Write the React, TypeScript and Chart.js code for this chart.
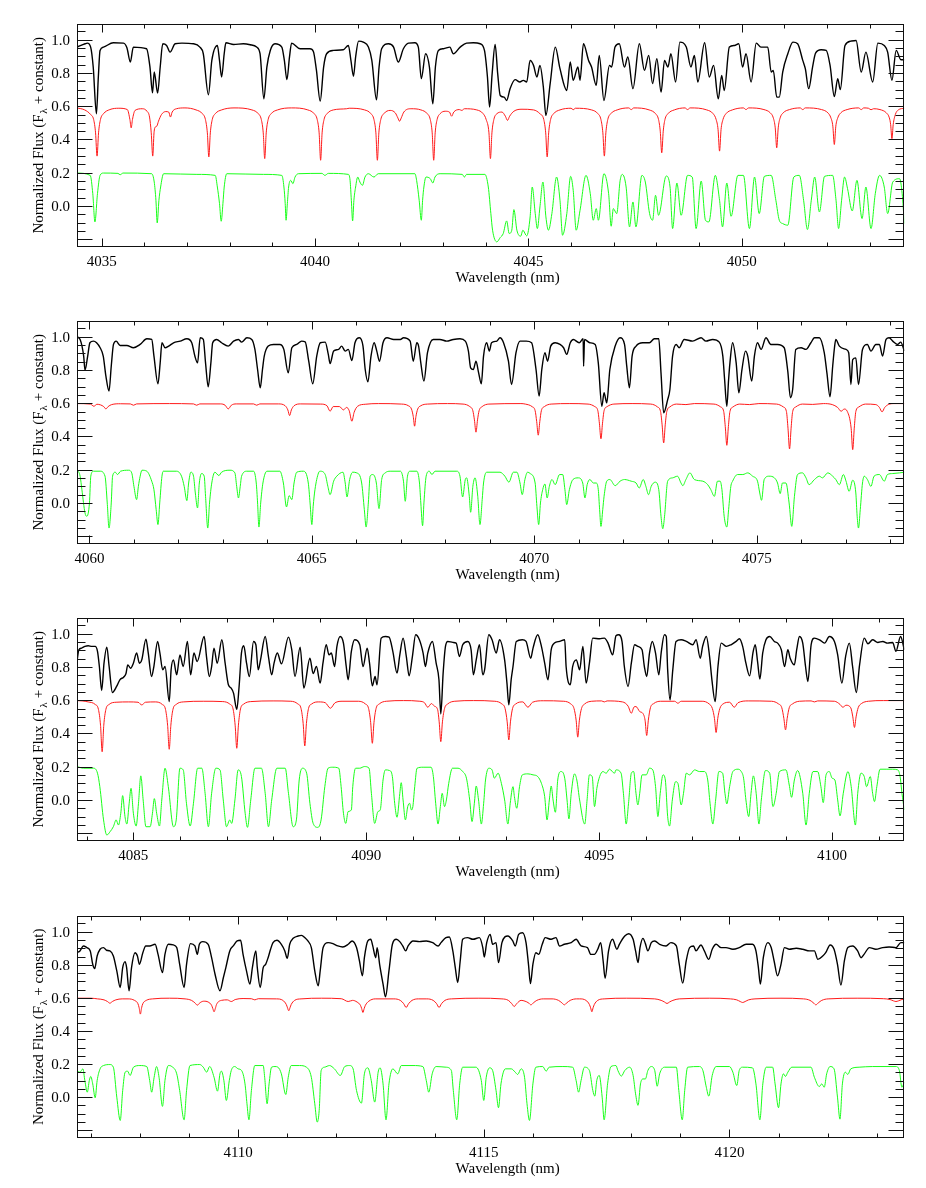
import React, { useEffect, useRef } from "react";
import { Chart, registerables } from "chart.js";

Chart.register(...registerables);

// ---------------- axis ranges and tick labels ----------------
const p1Range = [4034.42, 4053.81];
const p2Range = [4059.72, 4078.32];
const p3Range = [4083.79, 4101.55];
const p4Range = [4106.72, 4123.56];
const fluxRange = [-0.247, 1.098];

const p1Ticks = [4035, 4040, 4045, 4050];
const p2Ticks = [4060, 4065, 4070, 4075];
const p3Ticks = [4085, 4090, 4095, 4100];
const p4Ticks = [4110, 4115, 4120];

const yTickValues = [0.0, 0.2, 0.4, 0.6, 0.8, 1.0];
const yTickLabels = ["0.0", "0.2", "0.4", "0.6", "0.8", "1.0"];

const xTitle = "Wavelength (nm)";
const yTitleA = "Normalized Flux (F";
const yTitleSub = "λ";
const yTitleB = " + constant)";

// ---------------- spectra: [wavelength, flux, wavelength, flux, ...] ----------------
// Panel 1
const p1Observed = [
  4034.42,0.956, 4034.61,0.976, 4034.66,0.98, 4034.74,0.956, 4034.80,0.836, 4034.875,0.555, 4034.92,0.776, 4034.96,0.936,
  4035.04,0.956, 4035.27,0.982, 4035.51,0.98, 4035.59,0.952, 4035.67,0.866, 4035.74,0.956, 4036.05,0.946, 4036.13,0.836,
  4036.19,0.681, 4036.23,0.806, 4036.31,0.679, 4036.37,0.836, 4036.43,0.976, 4036.52,0.966, 4036.60,0.926, 4036.72,0.976,
  4036.88,0.98, 4037.15,0.976, 4037.30,0.956, 4037.38,0.916, 4037.50,0.669, 4037.58,0.876, 4037.71,0.966, 4037.76,0.876,
  4037.81,0.776, 4037.87,0.916, 4037.91,0.982, 4038.09,0.972, 4038.32,0.976, 4038.48,0.97, 4038.63,0.956, 4038.71,0.916,
  4038.80,0.645, 4038.87,0.836, 4038.95,0.936, 4039.06,0.976, 4039.22,0.956, 4039.28,0.876, 4039.34,0.76, 4039.40,0.896,
  4039.45,0.98, 4039.65,0.946, 4039.88,0.946, 4039.96,0.93, 4040.03,0.82, 4040.12,0.631, 4040.20,0.836, 4040.27,0.916,
  4040.43,0.936, 4040.66,0.94, 4040.78,0.966, 4040.84,0.876, 4040.90,0.78, 4040.95,0.896, 4041.02,0.992, 4041.13,0.986,
  4041.25,0.956, 4041.33,0.876, 4041.44,0.639, 4041.50,0.836, 4041.56,0.946, 4041.72,0.976, 4041.84,0.956, 4041.95,0.866,
  4042.07,0.946, 4042.19,0.98, 4042.34,0.982, 4042.42,0.956, 4042.49,0.766, 4042.59,0.916, 4042.68,0.836, 4042.76,0.615,
  4042.82,0.836, 4042.89,0.936, 4043.01,0.946, 4043.16,0.956, 4043.24,0.916, 4043.40,0.956, 4043.55,0.98, 4043.71,0.982,
  4043.87,0.976, 4043.97,0.936, 4044.04,0.776, 4044.09,0.595, 4044.15,0.796, 4044.22,0.972, 4044.28,0.796, 4044.34,0.665,
  4044.43,0.655, 4044.49,0.635, 4044.57,0.706, 4044.69,0.76, 4044.80,0.746, 4044.88,0.756, 4044.96,0.746, 4045.04,0.876,
  4045.12,0.846, 4045.20,0.776, 4045.27,0.846, 4045.35,0.716, 4045.41,0.545, 4045.51,0.736, 4045.63,0.956, 4045.74,0.826,
  4045.90,0.695, 4045.98,0.866, 4046.05,0.756, 4046.16,0.836, 4046.21,0.756, 4046.29,0.976, 4046.41,0.876, 4046.48,0.836,
  4046.59,0.726, 4046.66,0.906, 4046.77,0.635, 4046.90,0.846, 4046.95,0.836, 4047.03,0.956, 4047.13,0.976, 4047.25,0.836,
  4047.33,0.896, 4047.45,0.706, 4047.60,0.976, 4047.72,0.816, 4047.82,0.906, 4047.91,0.736, 4048.01,0.886, 4048.11,0.685,
  4048.19,0.876, 4048.27,0.836, 4048.34,0.916, 4048.45,0.746, 4048.55,0.986, 4048.70,0.956, 4048.81,0.836, 4048.89,0.906,
  4048.97,0.746, 4049.13,0.982, 4049.24,0.776, 4049.34,0.846, 4049.45,0.645, 4049.53,0.786, 4049.59,0.695, 4049.71,0.956,
  4049.83,0.966, 4049.93,0.976, 4050.02,0.836, 4050.10,0.916, 4050.22,0.746, 4050.34,0.98, 4050.45,0.956, 4050.61,0.956,
  4050.69,0.806, 4050.74,0.816, 4050.82,0.655, 4050.88,0.655, 4050.96,0.806, 4051.08,0.916, 4051.20,0.986, 4051.31,0.976,
  4051.43,0.876, 4051.49,0.826, 4051.57,0.706, 4051.66,0.836, 4051.73,0.92, 4051.86,0.94, 4051.98,0.936, 4052.07,0.846,
  4052.17,0.659, 4052.25,0.766, 4052.31,0.70, 4052.42,0.966, 4052.56,0.992, 4052.68,0.996, 4052.80,0.806, 4052.91,0.926,
  4053.07,0.746, 4053.19,0.98, 4053.34,0.966, 4053.42,0.926, 4053.52,0.756, 4053.62,0.936, 4053.73,0.88, 4053.81,0.88,
];
const p1ModelRed = [
  4034.42,0.59, 4034.60,0.578, 4034.74,0.55, 4034.81,0.52, 4034.855,0.44, 4034.89,0.30, 4034.925,0.44, 4034.97,0.52,
  4035.04,0.555, 4035.19,0.58, 4035.40,0.588, 4035.60,0.58, 4035.66,0.52, 4035.69,0.47, 4035.72,0.52, 4035.78,0.575,
  4035.95,0.585, 4036.06,0.57, 4036.12,0.535, 4036.16,0.44, 4036.195,0.30, 4036.225,0.44, 4036.255,0.475, 4036.29,0.48,
  4036.33,0.51, 4036.40,0.55, 4036.50,0.568, 4036.57,0.565, 4036.61,0.535, 4036.65,0.565, 4036.75,0.585, 4036.95,0.59,
  4037.21,0.578, 4037.36,0.555, 4037.43,0.52, 4037.475,0.44, 4037.51,0.295, 4037.545,0.44, 4037.59,0.52, 4037.66,0.555,
  4037.81,0.578, 4038.10,0.59, 4038.52,0.578, 4038.67,0.555, 4038.74,0.52, 4038.785,0.44, 4038.82,0.285, 4038.855,0.44,
  4038.90,0.52, 4038.97,0.555, 4039.12,0.578, 4039.45,0.59, 4039.83,0.578, 4039.98,0.555, 4040.05,0.52, 4040.095,0.44,
  4040.13,0.275, 4040.165,0.44, 4040.21,0.52, 4040.28,0.555, 4040.43,0.578, 4040.74,0.585, 4040.80,0.588, 4041.16,0.578,
  4041.31,0.555, 4041.38,0.52, 4041.425,0.44, 4041.46,0.275, 4041.495,0.44, 4041.54,0.52, 4041.61,0.555, 4041.76,0.575,
  4041.88,0.56, 4041.94,0.53, 4041.98,0.51, 4042.02,0.53, 4042.08,0.565, 4042.25,0.585, 4042.48,0.578, 4042.63,0.555,
  4042.70,0.52, 4042.745,0.44, 4042.78,0.275, 4042.815,0.44, 4042.86,0.52, 4042.93,0.555, 4043.05,0.57, 4043.15,0.565,
  4043.20,0.54, 4043.25,0.565, 4043.38,0.58, 4043.44,0.575, 4043.50,0.585, 4043.79,0.578, 4043.94,0.555, 4044.01,0.52,
  4044.075,0.44, 4044.11,0.285, 4044.145,0.44, 4044.19,0.52, 4044.26,0.555, 4044.38,0.565, 4044.46,0.54, 4044.51,0.515,
  4044.56,0.54, 4044.66,0.57, 4044.85,0.582, 4045.12,0.578, 4045.27,0.555, 4045.36,0.52, 4045.405,0.44, 4045.44,0.295,
  4045.475,0.44, 4045.52,0.52, 4045.59,0.555, 4045.74,0.578, 4046.00,0.588, 4046.05,0.579, 4046.10,0.588, 4046.48,0.578,
  4046.63,0.555, 4046.70,0.52, 4046.745,0.44, 4046.78,0.30, 4046.815,0.44, 4046.86,0.52, 4046.93,0.555, 4047.08,0.578,
  4047.35,0.59, 4047.41,0.58, 4047.47,0.59, 4047.83,0.578, 4047.98,0.555, 4048.05,0.52, 4048.09,0.45, 4048.125,0.32,
  4048.16,0.45, 4048.20,0.52, 4048.27,0.555, 4048.42,0.578, 4048.67,0.59, 4048.73,0.58, 4048.79,0.59, 4049.18,0.578,
  4049.33,0.555, 4049.40,0.52, 4049.445,0.46, 4049.48,0.33, 4049.515,0.46, 4049.56,0.52, 4049.63,0.555, 4049.78,0.578,
  4050.04,0.59, 4050.10,0.58, 4050.16,0.59, 4050.52,0.58, 4050.67,0.56, 4050.74,0.53, 4050.785,0.47, 4050.82,0.35,
  4050.855,0.47, 4050.90,0.53, 4050.97,0.56, 4051.12,0.58, 4051.37,0.59, 4051.43,0.58, 4051.49,0.59, 4051.87,0.58,
  4052.02,0.56, 4052.09,0.53, 4052.135,0.48, 4052.17,0.37, 4052.205,0.48, 4052.25,0.53, 4052.32,0.56, 4052.47,0.58,
  4052.74,0.59, 4052.80,0.58, 4052.86,0.59, 4052.97,0.588, 4053.03,0.579, 4053.09,0.585, 4053.24,0.58, 4053.39,0.56,
  4053.46,0.53, 4053.49,0.49, 4053.52,0.405, 4053.55,0.49, 4053.60,0.55, 4053.67,0.578, 4053.81,0.588,
];
const p1ModelGreen = [
  4034.42,0.198, 4034.73,0.184, 4034.79,0.074, 4034.84,-0.096, 4034.90,0.074, 4034.96,0.184, 4035.04,0.198, 4035.38,0.196,
  4035.43,0.188, 4035.50,0.198, 4036.17,0.194, 4036.23,0.144, 4036.27,0.034, 4036.30,-0.102, 4036.34,0.034, 4036.38,0.114,
  4036.45,0.194, 4037.23,0.19, 4037.66,0.184, 4037.71,0.114, 4037.76,0.014, 4037.80,-0.092, 4037.84,0.014, 4037.87,0.114,
  4037.93,0.194, 4038.79,0.19, 4039.22,0.184, 4039.27,0.114, 4039.30,0.014, 4039.32,-0.086, 4039.35,0.014, 4039.38,0.114,
  4039.43,0.154, 4039.48,0.134, 4039.53,0.174, 4039.61,0.194, 4040.16,0.196, 4040.23,0.184, 4040.31,0.196, 4040.78,0.19,
  4040.82,0.154, 4040.85,0.034, 4040.88,-0.09, 4040.91,0.034, 4040.95,0.114, 4041.00,0.174, 4041.05,0.144, 4041.11,0.124,
  4041.17,0.174, 4041.25,0.194, 4041.38,0.174, 4041.48,0.194, 4042.34,0.194, 4042.38,0.154, 4042.44,0.034, 4042.49,-0.086,
  4042.52,0.034, 4042.55,0.114, 4042.60,0.174, 4042.70,0.164, 4042.76,0.138, 4042.81,0.174, 4042.93,0.194, 4043.45,0.19,
  4043.50,0.174, 4043.55,0.19, 4043.98,0.19, 4044.06,0.114, 4044.12,-0.046, 4044.16,-0.146, 4044.26,-0.216, 4044.34,-0.19,
  4044.41,-0.166, 4044.49,-0.09, 4044.55,-0.166, 4044.61,-0.146, 4044.66,-0.022, 4044.73,-0.146, 4044.82,-0.182, 4044.87,-0.146,
  4044.96,-0.18, 4045.04,-0.066, 4045.09,0.114, 4045.16,-0.046, 4045.21,-0.136, 4045.27,-0.006, 4045.34,0.144, 4045.41,-0.066,
  4045.47,-0.146, 4045.55,-0.046, 4045.66,0.174, 4045.74,0.034, 4045.80,-0.176, 4045.90,-0.046, 4045.99,0.178, 4046.05,0.094,
  4046.12,-0.146, 4046.21,-0.026, 4046.35,0.184, 4046.45,0.074, 4046.52,-0.086, 4046.59,-0.016, 4046.64,-0.086, 4046.77,0.194,
  4046.88,0.074, 4046.94,-0.122, 4046.99,-0.016, 4047.07,-0.046, 4047.15,0.154, 4047.20,0.19, 4047.29,0.114, 4047.37,-0.126,
  4047.45,0.024, 4047.52,-0.126, 4047.66,0.184, 4047.74,0.144, 4047.84,-0.046, 4047.91,-0.086, 4047.98,0.064, 4048.05,-0.056,
  4048.23,0.18, 4048.32,0.114, 4048.38,-0.136, 4048.48,0.138, 4048.58,-0.056, 4048.73,0.184, 4048.84,0.174, 4048.93,-0.136,
  4049.05,0.15, 4049.15,-0.086, 4049.23,-0.096, 4049.38,0.184, 4049.48,0.034, 4049.55,-0.126, 4049.65,0.138, 4049.75,-0.062,
  4049.91,0.184, 4050.04,0.184, 4050.18,-0.136, 4050.30,0.174, 4050.41,-0.046, 4050.53,0.178, 4050.69,0.184, 4050.80,0.034,
  4050.88,-0.086, 4050.96,-0.106, 4051.08,-0.116, 4051.22,0.174, 4051.35,0.184, 4051.45,0.034, 4051.54,-0.142, 4051.63,0.034,
  4051.71,0.174, 4051.82,-0.036, 4051.94,0.178, 4052.13,0.184, 4052.21,0.034, 4052.27,-0.136, 4052.34,0.034, 4052.41,0.174,
  4052.48,0.104, 4052.59,-0.03, 4052.70,0.154, 4052.82,-0.076, 4052.91,0.114, 4053.03,-0.136, 4053.13,0.074, 4053.23,0.184,
  4053.34,0.114, 4053.42,-0.046, 4053.54,0.144, 4053.70,0.164, 4053.76,0.074, 4053.81,-0.106,
];

// Panel 2
const p2Observed = [
  4059.72,1.0, 4059.79,0.984, 4059.87,0.884, 4059.90,0.799, 4059.96,0.884, 4060.01,0.964, 4060.09,0.974, 4060.16,0.964,
  4060.24,0.934, 4060.31,0.884, 4060.37,0.763, 4060.44,0.673, 4060.49,0.823, 4060.54,0.954, 4060.60,0.974, 4060.69,0.948,
  4060.84,0.948, 4060.99,0.934, 4061.14,0.954, 4061.29,0.988, 4061.40,0.984, 4061.45,0.884, 4061.54,0.717, 4061.59,0.843,
  4061.63,0.964, 4061.70,0.934, 4061.78,0.944, 4061.89,0.964, 4062.04,0.974, 4062.19,0.988, 4062.30,0.964, 4062.37,0.884,
  4062.43,0.843, 4062.49,0.994, 4062.56,0.984, 4062.61,0.843, 4062.67,0.699, 4062.73,0.843, 4062.77,0.964, 4062.86,0.984,
  4062.97,0.964, 4063.12,0.944, 4063.24,0.974, 4063.35,0.984, 4063.42,0.968, 4063.54,0.994, 4063.65,0.984, 4063.72,0.924,
  4063.78,0.803, 4063.84,0.693, 4063.89,0.803, 4063.93,0.884, 4064.02,0.944, 4064.14,0.954, 4064.28,0.954, 4064.37,0.924,
  4064.47,0.783, 4064.55,0.934, 4064.66,0.954, 4064.77,0.974, 4064.85,0.97, 4064.93,0.853, 4065.02,0.717, 4065.11,0.884,
  4065.19,0.964, 4065.30,0.968, 4065.37,0.894, 4065.41,0.839, 4065.49,0.914, 4065.60,0.924, 4065.67,0.944, 4065.75,0.914,
  4065.82,0.924, 4065.90,0.857, 4065.97,0.964, 4066.07,0.994, 4066.15,0.944, 4066.20,0.803, 4066.26,0.729, 4066.33,0.884,
  4066.40,0.964, 4066.46,0.914, 4066.52,0.853, 4066.60,0.964, 4066.69,0.994, 4066.84,0.984, 4066.99,0.984, 4067.06,0.994,
  4067.21,0.974, 4067.28,0.853, 4067.36,0.964, 4067.40,0.944, 4067.45,0.843, 4067.52,0.733, 4067.60,0.904, 4067.73,0.984,
  4067.88,0.984, 4068.03,0.974, 4068.18,0.984, 4068.33,0.988, 4068.45,0.974, 4068.52,0.914, 4068.57,0.813, 4068.63,0.803,
  4068.69,0.853, 4068.75,0.783, 4068.81,0.717, 4068.86,0.884, 4068.93,0.964, 4068.99,0.914, 4069.04,0.964, 4069.16,0.974,
  4069.23,0.994, 4069.31,0.964, 4069.42,0.853, 4069.49,0.713, 4069.59,0.904, 4069.68,0.974, 4069.82,0.974, 4069.94,0.964,
  4070.04,0.803, 4070.11,0.643, 4070.17,0.803, 4070.24,0.904, 4070.30,0.853, 4070.37,0.944, 4070.47,0.964, 4070.58,0.954,
  4070.66,0.934, 4070.73,0.894, 4070.81,0.964, 4070.88,0.984, 4071.01,0.964, 4071.10,0.988, 4071.11,0.823, 4071.13,0.984,
  4071.25,0.964, 4071.37,0.954, 4071.44,0.843, 4071.52,0.582, 4071.57,0.663, 4071.63,0.602, 4071.70,0.803, 4071.82,0.944,
  4071.93,0.994, 4072.03,0.954, 4072.08,0.823, 4072.14,0.693, 4072.20,0.884, 4072.29,0.944, 4072.44,0.964, 4072.59,0.964,
  4072.70,0.988, 4072.80,0.988, 4072.85,0.783, 4072.91,0.542, 4073.00,0.622, 4073.05,0.683, 4073.11,0.884, 4073.19,0.954,
  4073.26,0.934, 4073.37,0.984, 4073.56,0.974, 4073.75,0.994, 4073.86,0.974, 4074.01,0.984, 4074.16,0.968, 4074.24,0.884,
  4074.28,0.743, 4074.33,0.582, 4074.37,0.743, 4074.40,0.843, 4074.46,0.964, 4074.54,0.843, 4074.60,0.663, 4074.67,0.803,
  4074.75,0.914, 4074.80,0.884, 4074.89,0.733, 4074.95,0.884, 4075.02,0.964, 4075.10,0.924, 4075.21,0.994, 4075.32,0.954,
  4075.47,0.954, 4075.62,0.934, 4075.70,0.793, 4075.76,0.633, 4075.81,0.683, 4075.88,0.924, 4076.00,0.934, 4076.11,0.924,
  4076.22,0.964, 4076.30,0.994, 4076.41,0.994, 4076.52,0.904, 4076.58,0.783, 4076.65,0.639, 4076.71,0.823, 4076.75,0.934,
  4076.78,0.984, 4076.86,0.944, 4077.01,0.924, 4077.07,0.904, 4077.12,0.713, 4077.16,0.863, 4077.23,0.873, 4077.29,0.713,
  4077.38,0.924, 4077.49,0.954, 4077.57,0.914, 4077.68,0.954, 4077.76,0.954, 4077.83,0.884, 4077.91,0.984, 4077.98,0.994,
  4078.06,0.974, 4078.17,0.954, 4078.24,0.968, 4078.32,0.914,
];
const p2ModelRed = [
  4059.72,0.598, 4060.02,0.595, 4060.10,0.582, 4060.17,0.594, 4060.25,0.59, 4060.32,0.58, 4060.37,0.566, 4060.42,0.58,
  4060.50,0.592, 4060.70,0.597, 4060.92,0.596, 4060.99,0.588, 4061.06,0.596, 4061.80,0.598, 4062.34,0.596, 4062.41,0.588,
  4062.48,0.596, 4062.95,0.596, 4063.05,0.588, 4063.12,0.566, 4063.19,0.588, 4063.30,0.596, 4063.69,0.596, 4063.76,0.588,
  4063.83,0.596, 4064.25,0.596, 4064.40,0.585, 4064.46,0.56, 4064.50,0.526, 4064.54,0.56, 4064.60,0.585, 4064.75,0.596,
  4065.20,0.595, 4065.34,0.585, 4065.41,0.552, 4065.48,0.58, 4065.62,0.58, 4065.71,0.56, 4065.78,0.575, 4065.84,0.555,
  4065.90,0.492, 4065.95,0.545, 4066.03,0.582, 4066.20,0.594, 4066.50,0.598, 4067.02,0.595, 4067.17,0.585, 4067.24,0.565,
  4067.28,0.52, 4067.31,0.462, 4067.34,0.52, 4067.38,0.565, 4067.45,0.585, 4067.60,0.595, 4068.05,0.598, 4068.40,0.595,
  4068.55,0.58, 4068.62,0.555, 4068.655,0.50, 4068.69,0.426, 4068.725,0.50, 4068.76,0.555, 4068.83,0.58, 4068.98,0.595,
  4069.70,0.598, 4069.80,0.595, 4069.95,0.58, 4070.02,0.555, 4070.055,0.49, 4070.09,0.408, 4070.125,0.49, 4070.16,0.555,
  4070.23,0.58, 4070.38,0.595, 4070.80,0.598, 4071.21,0.595, 4071.36,0.58, 4071.43,0.555, 4071.465,0.48, 4071.50,0.386,
  4071.535,0.48, 4071.57,0.555, 4071.64,0.58, 4071.79,0.595, 4072.20,0.598, 4072.62,0.595, 4072.77,0.578, 4072.84,0.55,
  4072.875,0.47, 4072.91,0.361, 4072.945,0.47, 4072.98,0.55, 4073.05,0.578, 4073.20,0.595, 4073.41,0.592, 4073.60,0.598,
  4074.04,0.595, 4074.19,0.578, 4074.26,0.55, 4074.295,0.46, 4074.33,0.347, 4074.365,0.46, 4074.40,0.55, 4074.47,0.578,
  4074.62,0.595, 4074.84,0.592, 4075.05,0.598, 4075.45,0.595, 4075.60,0.578, 4075.67,0.55, 4075.705,0.45, 4075.74,0.325,
  4075.775,0.45, 4075.81,0.55, 4075.88,0.578, 4076.03,0.595, 4076.26,0.593, 4076.50,0.598, 4076.70,0.592, 4076.82,0.575,
  4076.90,0.552, 4076.97,0.565, 4077.04,0.55, 4077.125,0.45, 4077.16,0.321, 4077.195,0.45, 4077.23,0.55, 4077.30,0.578,
  4077.45,0.595, 4077.68,0.592, 4077.76,0.575, 4077.82,0.548, 4077.88,0.575, 4077.96,0.592, 4078.10,0.598, 4078.32,0.598,
];
const p2ModelGreen = [
  4059.72,0.201, 4059.79,0.161, 4059.83,0.08, 4059.90,-0.06, 4059.94,-0.08, 4060.00,0.0, 4060.03,0.161, 4060.09,0.191,
  4060.24,0.191, 4060.35,0.161, 4060.40,0.0, 4060.44,-0.151, 4060.49,0.0, 4060.52,0.161, 4060.58,0.185, 4060.63,0.171,
  4060.70,0.191, 4060.88,0.197, 4060.95,0.181, 4061.00,0.10, 4061.06,0.02, 4061.10,0.10, 4061.14,0.161, 4061.18,0.197,
  4061.29,0.191, 4061.40,0.131, 4061.45,0.08, 4061.50,-0.04, 4061.54,-0.13, 4061.58,0.0, 4061.63,0.161, 4061.66,0.191,
  4061.96,0.191, 4062.07,0.161, 4062.13,0.10, 4062.19,0.014, 4062.23,0.12, 4062.28,0.185, 4062.34,0.161, 4062.38,0.06,
  4062.43,-0.03, 4062.47,0.12, 4062.52,0.177, 4062.58,0.161, 4062.61,0.04, 4062.66,-0.151, 4062.70,0.0, 4062.75,0.12,
  4062.82,0.185, 4062.91,0.165, 4062.97,0.185, 4063.16,0.197, 4063.27,0.181, 4063.31,0.10, 4063.35,0.03, 4063.39,0.10,
  4063.42,0.161, 4063.54,0.191, 4063.69,0.191, 4063.75,0.12, 4063.78,0.0, 4063.81,-0.145, 4063.85,0.0, 4063.90,0.12,
  4063.99,0.191, 4064.28,0.191, 4064.36,0.12, 4064.43,-0.024, 4064.49,0.044, 4064.55,0.02, 4064.60,0.12, 4064.66,0.185,
  4064.81,0.191, 4064.92,0.12, 4064.96,0.0, 4065.00,-0.13, 4065.03,-0.02, 4065.07,0.08, 4065.15,0.181, 4065.19,0.191,
  4065.30,0.171, 4065.36,0.10, 4065.41,0.05, 4065.49,0.131, 4065.56,0.161, 4065.70,0.185, 4065.75,0.12, 4065.79,0.036,
  4065.85,0.141, 4065.92,0.185, 4066.01,0.181, 4066.12,0.12, 4066.18,-0.04, 4066.22,-0.145, 4066.27,0.0, 4066.31,0.161,
  4066.37,0.171, 4066.45,0.12, 4066.51,-0.034, 4066.57,0.141, 4066.65,0.181, 4066.76,0.191, 4066.99,0.191, 4067.06,0.131,
  4067.10,0.01, 4067.15,0.161, 4067.21,0.191, 4067.36,0.191, 4067.42,0.12, 4067.45,0.0, 4067.49,-0.137, 4067.52,0.0,
  4067.57,0.161, 4067.64,0.191, 4067.70,0.171, 4067.77,0.191, 4068.26,0.191, 4068.33,0.161, 4068.39,0.036, 4068.45,0.141,
  4068.48,0.151, 4068.54,0.04, 4068.57,-0.056, 4068.62,0.10, 4068.67,0.151, 4068.73,0.04, 4068.78,-0.13, 4068.83,0.02,
  4068.86,0.12, 4068.93,0.185, 4069.23,0.185, 4069.34,0.161, 4069.43,0.125, 4069.53,0.185, 4069.61,0.185, 4069.68,0.12,
  4069.73,0.05, 4069.79,0.141, 4069.85,0.185, 4069.91,0.177, 4070.02,0.12, 4070.06,-0.02, 4070.10,-0.13, 4070.14,0.0,
  4070.19,0.08, 4070.24,0.114, 4070.29,0.03, 4070.34,0.10, 4070.40,0.141, 4070.47,0.11, 4070.57,0.171, 4070.64,0.171,
  4070.69,0.08, 4070.73,-0.01, 4070.79,0.08, 4070.87,0.141, 4070.99,0.151, 4071.09,0.12, 4071.14,0.03, 4071.19,0.11,
  4071.25,0.141, 4071.33,0.12, 4071.39,0.12, 4071.44,0.08, 4071.47,-0.04, 4071.50,-0.141, 4071.54,-0.04, 4071.57,0.04,
  4071.63,0.131, 4071.70,0.141, 4071.82,0.104, 4071.93,0.131, 4072.03,0.141, 4072.18,0.131, 4072.29,0.12, 4072.36,0.09,
  4072.45,0.141, 4072.51,0.10, 4072.57,0.05, 4072.63,0.10, 4072.72,0.125, 4072.80,0.08, 4072.85,-0.08, 4072.89,-0.155,
  4072.93,-0.08, 4073.00,0.131, 4073.11,0.151, 4073.22,0.161, 4073.30,0.12, 4073.34,0.104, 4073.41,0.141, 4073.50,0.181,
  4073.60,0.141, 4073.79,0.131, 4073.90,0.11, 4073.97,0.08, 4074.05,0.04, 4074.12,0.131, 4074.18,0.131, 4074.22,0.08,
  4074.27,-0.08, 4074.33,-0.145, 4074.37,-0.04, 4074.42,0.10, 4074.46,0.131, 4074.57,0.171, 4074.69,0.171, 4074.80,0.181,
  4074.91,0.161, 4075.02,0.131, 4075.07,0.06, 4075.11,0.016, 4075.17,0.141, 4075.28,0.161, 4075.40,0.151, 4075.47,0.12,
  4075.53,0.056, 4075.58,0.12, 4075.66,0.12, 4075.73,0.0, 4075.79,-0.141, 4075.85,0.04, 4075.92,0.171, 4076.03,0.181,
  4076.11,0.151, 4076.18,0.11, 4076.30,0.141, 4076.41,0.161, 4076.48,0.151, 4076.60,0.181, 4076.71,0.161, 4076.78,0.141,
  4076.86,0.11, 4076.95,0.171, 4077.01,0.131, 4077.08,0.07, 4077.16,0.137, 4077.23,0.06, 4077.26,-0.08, 4077.29,-0.151,
  4077.33,-0.04, 4077.38,0.12, 4077.42,0.161, 4077.49,0.141, 4077.57,0.10, 4077.64,0.161, 4077.76,0.171, 4077.87,0.131,
  4077.94,0.171, 4078.06,0.177, 4078.21,0.181, 4078.32,0.185,
];

// Panel 3
const p3Observed = [
  4083.79,0.833, 4083.83,0.904, 4083.89,0.914, 4083.96,0.924, 4084.03,0.928, 4084.11,0.924, 4084.18,0.924, 4084.23,0.894,
  4084.27,0.803, 4084.32,0.659, 4084.37,0.823, 4084.43,0.92, 4084.48,0.803, 4084.55,0.647, 4084.64,0.683, 4084.71,0.723,
  4084.79,0.739, 4084.84,0.759, 4084.88,0.813, 4084.94,0.793, 4085.00,0.823, 4085.07,0.884, 4085.13,0.823, 4085.18,0.843,
  4085.27,0.968, 4085.32,0.884, 4085.39,0.743, 4085.44,0.803, 4085.52,0.954, 4085.57,0.884, 4085.63,0.783, 4085.68,0.803,
  4085.77,0.592, 4085.81,0.783, 4085.86,0.843, 4085.93,0.753, 4086.00,0.873, 4086.07,0.803, 4086.16,0.954, 4086.23,0.753,
  4086.30,0.884, 4086.37,0.833, 4086.52,0.984, 4086.57,0.863, 4086.63,0.743, 4086.68,0.803, 4086.73,0.914, 4086.80,0.823,
  4086.90,0.964, 4086.97,0.823, 4087.04,0.693, 4087.10,0.673, 4087.15,0.643, 4087.22,0.546, 4087.27,0.683, 4087.32,0.884,
  4087.37,0.928, 4087.43,0.823, 4087.49,0.743, 4087.58,0.954, 4087.63,0.934, 4087.68,0.783, 4087.73,0.843, 4087.83,0.984,
  4087.90,0.863, 4087.97,0.753, 4088.02,0.823, 4088.09,0.884, 4088.18,0.819, 4088.33,0.98, 4088.40,0.904, 4088.47,0.743,
  4088.58,0.92, 4088.66,0.673, 4088.79,0.853, 4088.86,0.76, 4088.93,0.803, 4089.01,0.703, 4089.07,0.823, 4089.14,0.934,
  4089.20,0.873, 4089.25,0.884, 4089.32,0.803, 4089.37,0.924, 4089.44,0.984, 4089.51,0.944, 4089.57,0.803, 4089.61,0.723,
  4089.68,0.894, 4089.75,0.964, 4089.86,0.934, 4089.93,0.803, 4090.02,0.914, 4090.07,0.823, 4090.13,0.687, 4090.19,0.743,
  4090.23,0.693, 4090.32,0.974, 4090.41,0.984, 4090.49,0.98, 4090.57,0.894, 4090.66,0.763, 4090.72,0.873, 4090.79,0.974,
  4090.86,0.863, 4090.92,0.747, 4090.99,0.863, 4091.06,0.994, 4091.14,0.964, 4091.22,0.884, 4091.27,0.803, 4091.32,0.884,
  4091.42,0.954, 4091.50,0.823, 4091.56,0.723, 4091.60,0.518, 4091.65,0.763, 4091.70,0.924, 4091.75,0.954, 4091.86,0.948,
  4091.93,0.944, 4092.00,0.863, 4092.07,0.934, 4092.18,0.954, 4092.25,0.904, 4092.30,0.753, 4092.36,0.843, 4092.43,0.934,
  4092.50,0.753, 4092.54,0.783, 4092.63,0.994, 4092.70,0.964, 4092.79,0.884, 4092.86,0.964, 4092.97,0.843, 4093.02,0.703,
  4093.06,0.572, 4093.11,0.723, 4093.15,0.803, 4093.22,0.954, 4093.35,0.964, 4093.43,0.954, 4093.53,0.853, 4093.58,0.914,
  4093.68,0.994, 4093.76,0.924, 4093.83,0.823, 4093.90,0.723, 4093.97,0.904, 4094.04,0.944, 4094.15,0.954, 4094.26,0.964,
  4094.29,0.803, 4094.38,0.693, 4094.43,0.803, 4094.51,0.843, 4094.58,0.783, 4094.65,0.924, 4094.72,0.703, 4094.79,0.823,
  4094.86,0.974, 4095.01,0.97, 4095.11,0.974, 4095.19,0.944, 4095.29,0.873, 4095.36,0.988, 4095.42,0.994, 4095.49,0.954,
  4095.54,0.803, 4095.62,0.683, 4095.69,0.823, 4095.76,0.934, 4095.83,0.924, 4095.92,0.904, 4095.97,0.803, 4096.02,0.743,
  4096.08,0.884, 4096.14,0.954, 4096.21,0.884, 4096.28,0.753, 4096.33,0.884, 4096.40,0.994, 4096.44,0.984, 4096.47,0.783,
  4096.52,0.602, 4096.58,0.783, 4096.65,0.954, 4096.76,0.964, 4096.87,0.954, 4097.01,0.934, 4097.08,0.964, 4097.17,0.853,
  4097.22,0.924, 4097.30,0.984, 4097.37,0.863, 4097.42,0.723, 4097.49,0.592, 4097.55,0.803, 4097.62,0.944, 4097.73,0.924,
  4097.83,0.934, 4097.94,0.954, 4098.01,0.97, 4098.08,0.924, 4098.15,0.823, 4098.23,0.747, 4098.30,0.884, 4098.35,0.934,
  4098.40,0.833, 4098.45,0.727, 4098.51,0.884, 4098.58,0.964, 4098.66,0.984, 4098.76,0.954, 4098.83,0.944, 4098.91,0.904,
  4098.98,0.803, 4099.05,0.904, 4099.10,0.853, 4099.19,0.813, 4099.24,0.904, 4099.30,0.984, 4099.37,0.944, 4099.43,0.803,
  4099.48,0.713, 4099.55,0.934, 4099.62,0.974, 4099.73,0.964, 4099.84,0.944, 4099.94,0.984, 4100.05,0.954, 4100.12,0.873,
  4100.21,0.703, 4100.29,0.863, 4100.37,0.944, 4100.44,0.803, 4100.52,0.647, 4100.59,0.813, 4100.69,0.974, 4100.77,0.94,
  4100.87,0.964, 4100.98,0.948, 4101.09,0.954, 4101.19,0.944, 4101.30,0.948, 4101.37,0.894, 4101.47,0.984, 4101.55,0.904,
];
const p3ModelRed = [
  4083.79,0.598, 4083.90,0.596, 4084.03,0.59, 4084.18,0.575, 4084.25,0.545, 4084.295,0.45, 4084.33,0.29, 4084.365,0.45,
  4084.41,0.545, 4084.48,0.575, 4084.63,0.588, 4084.90,0.59, 4085.10,0.588, 4085.18,0.572, 4085.26,0.588, 4085.47,0.59,
  4085.62,0.575, 4085.69,0.545, 4085.735,0.45, 4085.77,0.305, 4085.805,0.45, 4085.85,0.545, 4085.92,0.575, 4086.07,0.59,
  4086.50,0.594, 4086.92,0.592, 4087.07,0.577, 4087.14,0.548, 4087.185,0.45, 4087.22,0.311, 4087.255,0.45, 4087.30,0.548,
  4087.37,0.577, 4087.52,0.592, 4088.00,0.596, 4088.38,0.594, 4088.53,0.578, 4088.60,0.55, 4088.645,0.46, 4088.68,0.325,
  4088.715,0.46, 4088.76,0.55, 4088.83,0.578, 4088.98,0.59, 4089.12,0.585, 4089.23,0.552, 4089.33,0.585, 4089.50,0.594,
  4089.83,0.594, 4089.98,0.578, 4090.05,0.55, 4090.095,0.465, 4090.13,0.341, 4090.165,0.465, 4090.21,0.55, 4090.28,0.578,
  4090.43,0.594, 4090.80,0.598, 4091.15,0.594, 4091.25,0.585, 4091.32,0.558, 4091.40,0.58, 4091.46,0.565, 4091.53,0.545,
  4091.565,0.47, 4091.60,0.351, 4091.635,0.47, 4091.68,0.55, 4091.75,0.578, 4091.90,0.594, 4092.30,0.598, 4092.76,0.594,
  4092.91,0.578, 4092.98,0.55, 4093.025,0.47, 4093.06,0.361, 4093.095,0.47, 4093.14,0.55, 4093.21,0.578, 4093.36,0.59,
  4093.47,0.558, 4093.57,0.588, 4093.80,0.597, 4094.24,0.594, 4094.39,0.578, 4094.46,0.55, 4094.505,0.48, 4094.54,0.378,
  4094.575,0.48, 4094.62,0.55, 4094.69,0.578, 4094.84,0.594, 4095.05,0.596, 4095.11,0.59, 4095.17,0.596, 4095.50,0.59,
  4095.62,0.565, 4095.69,0.522, 4095.75,0.56, 4095.79,0.562, 4095.87,0.532, 4095.94,0.52, 4095.985,0.48, 4096.02,0.388,
  4096.055,0.48, 4096.10,0.555, 4096.17,0.58, 4096.32,0.594, 4096.62,0.594, 4096.69,0.582, 4096.76,0.594, 4097.21,0.594,
  4097.36,0.578, 4097.43,0.55, 4097.475,0.49, 4097.51,0.406, 4097.545,0.49, 4097.59,0.55, 4097.66,0.578, 4097.80,0.588,
  4097.90,0.558, 4097.98,0.585, 4098.20,0.596, 4098.70,0.594, 4098.85,0.578, 4098.92,0.555, 4098.965,0.49, 4099.00,0.422,
  4099.035,0.49, 4099.08,0.555, 4099.15,0.578, 4099.30,0.594, 4099.55,0.596, 4099.62,0.59, 4099.69,0.596, 4100.05,0.594,
  4100.17,0.575, 4100.23,0.558, 4100.30,0.57, 4100.40,0.555, 4100.445,0.50, 4100.48,0.436, 4100.515,0.50, 4100.56,0.555,
  4100.63,0.58, 4100.78,0.594, 4101.10,0.598, 4101.55,0.598,
];
const p3ModelGreen = [
  4083.79,0.201, 4083.93,0.191, 4084.14,0.191, 4084.23,0.161, 4084.28,0.08, 4084.36,-0.12, 4084.43,-0.211, 4084.50,-0.191,
  4084.57,-0.161, 4084.63,-0.12, 4084.68,-0.151, 4084.73,-0.08, 4084.77,0.026, 4084.82,-0.10, 4084.86,-0.145, 4084.91,-0.02,
  4084.95,0.07, 4085.00,-0.08, 4085.06,-0.157, 4085.11,-0.02, 4085.16,0.145, 4085.21,0.0, 4085.27,-0.161, 4085.36,-0.161,
  4085.41,-0.08, 4085.45,0.008, 4085.50,-0.08, 4085.56,-0.157, 4085.61,0.0, 4085.68,0.191, 4085.75,0.08, 4085.86,-0.161,
  4085.92,-0.12, 4086.00,0.191, 4086.07,0.181, 4086.14,-0.02, 4086.22,-0.157, 4086.29,-0.02, 4086.38,0.191, 4086.47,0.191,
  4086.54,0.04, 4086.61,-0.161, 4086.68,0.04, 4086.77,0.191, 4086.86,0.181, 4086.93,0.0, 4087.00,-0.161, 4087.07,-0.12,
  4087.11,-0.141, 4087.18,0.0, 4087.25,0.181, 4087.32,0.141, 4087.40,-0.08, 4087.45,-0.165, 4087.52,0.0, 4087.61,0.191,
  4087.75,0.191, 4087.83,0.04, 4087.90,-0.161, 4087.97,0.0, 4088.08,0.191, 4088.26,0.191, 4088.33,0.04, 4088.43,-0.161,
  4088.50,-0.12, 4088.56,0.12, 4088.63,0.191, 4088.72,0.161, 4088.79,-0.02, 4088.86,-0.141, 4088.96,-0.165, 4089.03,-0.12,
  4089.11,0.08, 4089.18,0.191, 4089.28,0.197, 4089.41,0.191, 4089.46,0.08, 4089.51,-0.08, 4089.56,-0.141, 4089.61,-0.07,
  4089.68,-0.06, 4089.71,0.08, 4089.77,0.191, 4089.86,0.191, 4089.96,0.201, 4090.06,0.191, 4090.11,0.04, 4090.18,-0.141,
  4090.25,-0.07, 4090.30,-0.06, 4090.36,0.12, 4090.41,0.181, 4090.50,0.177, 4090.56,0.141, 4090.61,-0.02, 4090.66,-0.104,
  4090.72,0.04, 4090.75,0.104, 4090.79,0.0, 4090.84,-0.12, 4090.89,-0.04, 4090.93,-0.02, 4090.97,-0.06, 4091.00,-0.04,
  4091.04,0.08, 4091.09,0.191, 4091.22,0.197, 4091.39,0.197, 4091.44,0.141, 4091.49,-0.02, 4091.54,-0.145, 4091.59,-0.04,
  4091.63,0.04, 4091.68,-0.04, 4091.72,0.0, 4091.77,0.10, 4091.85,0.191, 4091.97,0.191, 4092.07,0.171, 4092.15,0.131,
  4092.22,0.0, 4092.27,-0.13, 4092.32,-0.02, 4092.36,0.084, 4092.41,0.0, 4092.47,-0.145, 4092.52,-0.02, 4092.56,0.12,
  4092.63,0.191, 4092.70,0.181, 4092.75,0.131, 4092.83,0.161, 4092.90,0.10, 4092.97,0.0, 4093.04,-0.145, 4093.09,-0.02,
  4093.15,0.08, 4093.18,0.02, 4093.23,-0.05, 4093.29,0.08, 4093.35,0.151, 4093.47,0.157, 4093.58,0.151, 4093.68,0.141,
  4093.76,0.10, 4093.83,0.02, 4093.88,-0.12, 4093.93,0.0, 4093.97,0.084, 4094.01,0.0, 4094.06,-0.074, 4094.11,0.12,
  4094.18,0.171, 4094.26,0.131, 4094.31,0.0, 4094.35,-0.114, 4094.40,0.04, 4094.47,0.157, 4094.52,0.12, 4094.58,0.0,
  4094.69,-0.145, 4094.74,0.0, 4094.79,0.151, 4094.85,0.141, 4094.90,-0.04, 4094.95,0.07, 4095.01,0.141, 4095.08,0.171,
  4095.15,0.161, 4095.22,0.185, 4095.33,0.161, 4095.36,0.181, 4095.47,0.161, 4095.52,0.04, 4095.58,-0.145, 4095.63,-0.02,
  4095.69,0.161, 4095.74,0.171, 4095.79,0.04, 4095.83,-0.03, 4095.87,0.04, 4095.92,0.151, 4096.01,0.151, 4096.08,0.191,
  4096.15,0.181, 4096.21,0.08, 4096.26,-0.10, 4096.31,0.04, 4096.37,0.151, 4096.42,0.12, 4096.47,-0.10, 4096.51,-0.157,
  4096.57,0.0, 4096.64,0.11, 4096.69,0.10, 4096.76,-0.03, 4096.81,0.04, 4096.87,0.161, 4096.94,0.151, 4097.05,0.181,
  4097.15,0.171, 4097.26,0.171, 4097.33,0.12, 4097.38,-0.02, 4097.44,-0.145, 4097.50,0.0, 4097.57,0.171, 4097.65,0.161,
  4097.70,0.04, 4097.74,-0.024, 4097.80,0.08, 4097.87,0.171, 4097.98,0.185, 4098.05,0.171, 4098.10,0.131, 4098.15,0.0,
  4098.21,-0.10, 4098.26,0.04, 4098.31,0.145, 4098.37,0.04, 4098.43,-0.145, 4098.48,0.0, 4098.57,0.177, 4098.66,0.161,
  4098.73,-0.04, 4098.80,0.04, 4098.87,0.171, 4099.01,0.181, 4099.08,0.09, 4099.13,0.016, 4099.19,0.12, 4099.26,0.177,
  4099.37,0.04, 4099.44,-0.151, 4099.51,0.04, 4099.59,0.171, 4099.69,0.171, 4099.76,0.08, 4099.81,-0.016, 4099.87,0.151,
  4099.94,0.171, 4100.00,0.131, 4100.06,0.12, 4100.12,0.0, 4100.17,-0.096, 4100.24,0.04, 4100.34,0.171, 4100.41,0.08,
  4100.50,-0.151, 4100.55,0.04, 4100.62,0.161, 4100.69,0.141, 4100.74,0.08, 4100.82,0.141, 4100.87,0.04, 4100.91,-0.01,
  4100.96,0.08, 4101.03,0.185, 4101.16,0.185, 4101.30,0.185, 4101.41,0.181, 4101.46,0.141, 4101.50,0.04, 4101.55,-0.06,
];

// Panel 4
const p4Observed = [
  4106.72,0.873, 4106.78,0.884, 4106.85,0.914, 4106.92,0.904, 4106.99,0.884, 4107.04,0.803, 4107.08,0.777, 4107.13,0.853,
  4107.19,0.894, 4107.26,0.904, 4107.32,0.888, 4107.39,0.884, 4107.46,0.853, 4107.53,0.763, 4107.60,0.663, 4107.65,0.783,
  4107.70,0.819, 4107.73,0.783, 4107.78,0.643, 4107.83,0.783, 4107.90,0.873, 4107.95,0.853, 4107.99,0.803, 4108.06,0.873,
  4108.12,0.914, 4108.20,0.914, 4108.31,0.924, 4108.37,0.863, 4108.46,0.753, 4108.51,0.863, 4108.58,0.924, 4108.68,0.92,
  4108.75,0.904, 4108.81,0.803, 4108.90,0.663, 4108.95,0.803, 4109.03,0.928, 4109.12,0.914, 4109.17,0.863, 4109.21,0.924,
  4109.28,0.94, 4109.39,0.924, 4109.46,0.843, 4109.53,0.743, 4109.63,0.643, 4109.70,0.723, 4109.75,0.783, 4109.83,0.884,
  4109.90,0.914, 4109.98,0.944, 4110.05,0.948, 4110.10,0.863, 4110.17,0.763, 4110.24,0.683, 4110.29,0.783, 4110.36,0.884,
  4110.39,0.783, 4110.45,0.663, 4110.51,0.783, 4110.56,0.803, 4110.61,0.843, 4110.66,0.894, 4110.71,0.934, 4110.79,0.948,
  4110.88,0.924, 4110.95,0.884, 4111.00,0.839, 4111.05,0.924, 4111.12,0.96, 4111.22,0.974, 4111.29,0.978, 4111.36,0.964,
  4111.42,0.944, 4111.49,0.904, 4111.56,0.763, 4111.63,0.673, 4111.67,0.763, 4111.73,0.904, 4111.83,0.934, 4111.93,0.928,
  4112.03,0.914, 4112.13,0.908, 4112.24,0.924, 4112.32,0.944, 4112.41,0.904, 4112.47,0.823, 4112.53,0.733, 4112.57,0.843,
  4112.64,0.944, 4112.70,0.954, 4112.74,0.914, 4112.80,0.843, 4112.83,0.904, 4112.88,0.803, 4112.95,0.683, 4113.00,0.606,
  4113.07,0.763, 4113.14,0.924, 4113.22,0.954, 4113.29,0.94, 4113.35,0.914, 4113.41,0.884, 4113.46,0.914, 4113.56,0.944,
  4113.69,0.94, 4113.83,0.944, 4113.96,0.934, 4114.07,0.914, 4114.13,0.934, 4114.23,0.964, 4114.30,0.968, 4114.37,0.884,
  4114.42,0.783, 4114.47,0.693, 4114.52,0.823, 4114.57,0.954, 4114.67,0.964, 4114.78,0.954, 4114.91,0.964, 4114.98,0.904,
  4115.01,0.847, 4115.06,0.934, 4115.13,0.984, 4115.18,0.924, 4115.25,0.934, 4115.30,0.813, 4115.37,0.934, 4115.49,0.974,
  4115.59,0.944, 4115.64,0.914, 4115.71,0.984, 4115.79,0.994, 4115.86,0.934, 4115.91,0.803, 4115.95,0.687, 4116.00,0.803,
  4116.06,0.873, 4116.12,0.863, 4116.19,0.924, 4116.25,0.964, 4116.37,0.954, 4116.47,0.964, 4116.54,0.914, 4116.64,0.924,
  4116.78,0.934, 4116.88,0.954, 4116.98,0.914, 4117.11,0.904, 4117.18,0.863, 4117.25,0.863, 4117.32,0.894, 4117.38,0.934,
  4117.43,0.823, 4117.47,0.719, 4117.54,0.884, 4117.62,0.954, 4117.71,0.894, 4117.76,0.924, 4117.87,0.974, 4117.95,0.988,
  4118.04,0.954, 4118.09,0.884, 4118.14,0.813, 4118.18,0.904, 4118.24,0.96, 4118.29,0.928, 4118.34,0.884, 4118.41,0.934,
  4118.48,0.944, 4118.58,0.924, 4118.71,0.914, 4118.81,0.934, 4118.92,0.914, 4118.98,0.803, 4119.05,0.689, 4119.12,0.823,
  4119.19,0.904, 4119.27,0.914, 4119.32,0.884, 4119.42,0.92, 4119.49,0.884, 4119.58,0.833, 4119.65,0.894, 4119.73,0.924,
  4119.83,0.904, 4119.93,0.904, 4120.07,0.894, 4120.20,0.904, 4120.34,0.924, 4120.47,0.924, 4120.54,0.884, 4120.59,0.783,
  4120.63,0.683, 4120.69,0.843, 4120.78,0.934, 4120.85,0.904, 4120.91,0.823, 4120.98,0.733, 4121.05,0.803, 4121.12,0.904,
  4121.22,0.894, 4121.36,0.90, 4121.49,0.894, 4121.63,0.884, 4121.73,0.884, 4121.80,0.833, 4121.90,0.853, 4121.96,0.873,
  4122.05,0.92, 4122.13,0.894, 4122.20,0.803, 4122.27,0.677, 4122.34,0.823, 4122.41,0.904, 4122.51,0.914, 4122.61,0.884,
  4122.68,0.843, 4122.74,0.863, 4122.85,0.904, 4122.98,0.894, 4123.12,0.904, 4123.25,0.908, 4123.39,0.904, 4123.49,0.934,
  4123.56,0.934,
];
const p4ModelRed = [
  4106.72,0.598, 4107.00,0.598, 4107.14,0.594, 4107.27,0.588, 4107.34,0.578, 4107.39,0.568, 4107.44,0.578, 4107.51,0.588,
  4107.64,0.594, 4107.76,0.594, 4107.89,0.585, 4107.96,0.565, 4107.985,0.54, 4108.01,0.502, 4108.035,0.54, 4108.06,0.565,
  4108.13,0.585, 4108.26,0.594, 4108.60,0.598, 4108.92,0.594, 4109.05,0.585, 4109.12,0.57, 4109.17,0.556, 4109.22,0.57,
  4109.30,0.58, 4109.39,0.575, 4109.46,0.555, 4109.485,0.535, 4109.51,0.516, 4109.535,0.535, 4109.56,0.56, 4109.66,0.585,
  4109.78,0.588, 4109.86,0.578, 4109.94,0.59, 4110.10,0.596, 4110.27,0.595, 4110.34,0.588, 4110.41,0.595, 4110.78,0.594,
  4110.91,0.585, 4110.98,0.56, 4111.005,0.54, 4111.03,0.522, 4111.055,0.54, 4111.08,0.56, 4111.15,0.585, 4111.28,0.594,
  4111.70,0.598, 4112.10,0.595, 4112.24,0.578, 4112.33,0.585, 4112.42,0.575, 4112.49,0.555, 4112.515,0.535, 4112.54,0.512,
  4112.565,0.535, 4112.59,0.555, 4112.66,0.58, 4112.79,0.594, 4113.17,0.594, 4113.30,0.585, 4113.37,0.565, 4113.42,0.542,
  4113.47,0.565, 4113.54,0.585, 4113.67,0.594, 4113.84,0.594, 4113.97,0.585, 4114.04,0.565, 4114.09,0.542, 4114.14,0.565,
  4114.21,0.585, 4114.34,0.594, 4114.90,0.598, 4115.37,0.594, 4115.50,0.585, 4115.57,0.565, 4115.62,0.548, 4115.67,0.565,
  4115.76,0.585, 4115.84,0.58, 4115.91,0.57, 4115.96,0.558, 4116.01,0.57, 4116.08,0.585, 4116.21,0.594, 4116.39,0.594,
  4116.52,0.585, 4116.59,0.57, 4116.64,0.558, 4116.69,0.57, 4116.76,0.585, 4116.89,0.594, 4116.95,0.594, 4117.08,0.585,
  4117.15,0.56, 4117.175,0.54, 4117.20,0.516, 4117.225,0.54, 4117.25,0.56, 4117.32,0.585, 4117.45,0.594, 4117.90,0.598,
  4118.48,0.594, 4118.61,0.585, 4118.68,0.575, 4118.73,0.566, 4118.78,0.575, 4118.85,0.585, 4118.98,0.594, 4119.60,0.598,
  4120.02,0.594, 4120.15,0.588, 4120.22,0.578, 4120.27,0.572, 4120.32,0.578, 4120.39,0.588, 4120.52,0.594, 4121.05,0.598,
  4121.51,0.594, 4121.64,0.585, 4121.71,0.57, 4121.76,0.558, 4121.81,0.57, 4121.88,0.585, 4122.01,0.594, 4122.60,0.598,
  4123.14,0.595, 4123.27,0.59, 4123.34,0.582, 4123.39,0.578, 4123.44,0.582, 4123.51,0.59, 4123.56,0.594,
];
const p4ModelGreen = [
  4106.72,0.161, 4106.78,0.151, 4106.84,0.171, 4106.88,0.10, 4106.93,0.03, 4106.97,0.10, 4107.00,0.125, 4107.04,0.08,
  4107.09,-0.004, 4107.13,0.10, 4107.19,0.171, 4107.26,0.191, 4107.39,0.197, 4107.46,0.181, 4107.53,0.0, 4107.60,-0.141,
  4107.65,0.04, 4107.70,0.151, 4107.75,0.157, 4107.80,0.131, 4107.87,0.181, 4108.00,0.191, 4108.14,0.185, 4108.20,0.10,
  4108.24,0.03, 4108.29,0.12, 4108.34,0.185, 4108.39,0.12, 4108.46,-0.056, 4108.51,0.10, 4108.58,0.191, 4108.65,0.185,
  4108.75,0.141, 4108.81,0.04, 4108.90,-0.137, 4108.95,0.04, 4109.02,0.191, 4109.22,0.197, 4109.29,0.181, 4109.36,0.151,
  4109.42,0.185, 4109.51,0.12, 4109.58,0.036, 4109.63,0.141, 4109.66,0.157, 4109.71,0.10, 4109.76,-0.02, 4109.82,0.10,
  4109.86,0.161, 4109.93,0.185, 4110.00,0.171, 4110.07,0.161, 4110.14,0.08, 4110.18,-0.04, 4110.22,-0.137, 4110.27,0.04,
  4110.34,0.191, 4110.51,0.191, 4110.54,0.12, 4110.59,-0.04, 4110.63,0.08, 4110.68,0.181, 4110.75,0.185, 4110.81,0.181,
  4110.88,0.141, 4110.97,0.016, 4111.02,0.12, 4111.08,0.191, 4111.25,0.191, 4111.39,0.181, 4111.49,0.12, 4111.56,-0.04,
  4111.61,-0.151, 4111.65,-0.08, 4111.69,0.161, 4111.76,0.181, 4111.86,0.191, 4111.96,0.171, 4112.08,0.131, 4112.17,0.185,
  4112.27,0.191, 4112.34,0.171, 4112.41,0.04, 4112.51,-0.036, 4112.57,0.141, 4112.64,0.177, 4112.71,0.10, 4112.78,-0.03,
  4112.85,0.151, 4112.89,0.177, 4112.95,0.08, 4113.01,-0.137, 4113.07,0.08, 4113.15,0.171, 4113.25,0.141, 4113.32,0.191,
  4113.56,0.191, 4113.76,0.185, 4113.83,0.10, 4113.88,0.03, 4113.95,0.141, 4114.03,0.185, 4114.23,0.181, 4114.34,0.161,
  4114.38,0.04, 4114.45,-0.137, 4114.51,0.08, 4114.57,0.181, 4114.84,0.181, 4114.95,0.10, 4115.00,-0.02, 4115.05,0.12,
  4115.12,0.177, 4115.18,0.161, 4115.25,0.04, 4115.30,-0.064, 4115.35,0.08, 4115.44,0.171, 4115.56,0.171, 4115.64,0.151,
  4115.69,0.137, 4115.76,0.171, 4115.83,0.12, 4115.88,-0.04, 4115.93,-0.141, 4116.00,0.08, 4116.06,0.181, 4116.20,0.185,
  4116.27,0.157, 4116.33,0.181, 4116.61,0.185, 4116.81,0.181, 4116.88,0.10, 4116.93,0.03, 4116.98,0.10, 4117.05,0.181,
  4117.15,0.161, 4117.22,0.04, 4117.26,0.006, 4117.30,0.10, 4117.35,0.131, 4117.41,0.0, 4117.45,-0.137, 4117.52,0.08,
  4117.59,0.185, 4117.69,0.191, 4117.73,0.161, 4117.80,0.127, 4117.87,0.161, 4117.97,0.181, 4118.04,0.131, 4118.09,0.02,
  4118.14,-0.05, 4118.19,0.08, 4118.24,0.11, 4118.29,0.11, 4118.34,0.161, 4118.41,0.185, 4118.48,0.161, 4118.53,0.066,
  4118.58,0.141, 4118.68,0.181, 4118.92,0.181, 4118.97,0.04, 4119.04,-0.137, 4119.09,0.04, 4119.15,0.181, 4119.39,0.185,
  4119.46,0.161, 4119.53,0.06, 4119.58,0.006, 4119.65,0.131, 4119.73,0.185, 4120.00,0.185, 4120.07,0.151, 4120.15,0.07,
  4120.20,0.161, 4120.27,0.181, 4120.47,0.177, 4120.54,0.08, 4120.62,-0.137, 4120.68,0.08, 4120.75,0.181, 4120.88,0.181,
  4120.93,0.08, 4121.00,-0.064, 4121.05,0.08, 4121.10,0.141, 4121.14,0.125, 4121.19,0.151, 4121.27,0.181, 4121.66,0.181,
  4121.73,0.12, 4121.83,0.064, 4121.88,0.08, 4121.93,0.06, 4121.98,0.141, 4122.05,0.185, 4122.13,0.171, 4122.20,0.0,
  4122.25,-0.133, 4122.30,0.08, 4122.36,0.151, 4122.41,0.137, 4122.47,0.171, 4122.64,0.181, 4122.91,0.185, 4123.39,0.185,
  4123.46,0.161, 4123.51,0.06, 4123.56,0.09,
];

// ---------------- helpers ----------------
function toPoints(flat: number[]) {
  const pts: { x: number; y: number }[] = [];
  for (let i = 0; i + 1 < flat.length; i += 2) pts.push({ x: flat[i], y: flat[i + 1] });
  pts.sort((a, b) => a.x - b.x);
  return pts;
}

const panels = [
  { obs: p1Observed, red: p1ModelRed, green: p1ModelGreen, range: p1Range, ticks: p1Ticks },
  { obs: p2Observed, red: p2ModelRed, green: p2ModelGreen, range: p2Range, ticks: p2Ticks },
  { obs: p3Observed, red: p3ModelRed, green: p3ModelGreen, range: p3Range, ticks: p3Ticks },
  { obs: p4Observed, red: p4ModelRed, green: p4ModelGreen, range: p4Range, ticks: p4Ticks },
];

const FONT = "'Liberation Serif', 'DejaVu Serif', serif";
const CANVAS_W = 926;
const CANVAS_H = 297;
const PANEL_TOPS = [0, 297, 594, 892];

const idlAxesPlugin = {
  id: "idlAxes",
  afterDraw(chart: any, _args: any, opts: any) {
    const { ctx, chartArea: a } = chart;
    const xs = chart.scales.x;
    const ys = chart.scales.y;
    ctx.save();
    ctx.strokeStyle = "#111";
    ctx.lineWidth = 1;
    const L = Math.round(a.left) + 0.5;
    const R = Math.round(a.right) - 0.5;
    const T = Math.round(a.top) + 0.5;
    const B = Math.round(a.bottom) - 0.5;
    ctx.strokeRect(L, T, R - L, B - T);
    ctx.beginPath();
    for (let v = Math.ceil(xs.min); v <= Math.floor(xs.max); v++) {
      const px = Math.round(xs.getPixelForValue(v)) + 0.5;
      const len = v % 5 === 0 ? 8 : 4;
      ctx.moveTo(px, B);
      ctx.lineTo(px, B - len);
      ctx.moveTo(px, T);
      ctx.lineTo(px, T + len);
    }
    const kStart = Math.ceil(ys.min / 0.05 - 1e-6);
    const kEnd = Math.floor(ys.max / 0.05 + 1e-6);
    for (let k = kStart; k <= kEnd; k++) {
      const py = Math.round(ys.getPixelForValue(k * 0.05)) + 0.5;
      const len = k % 4 === 0 ? 15 : 8;
      ctx.moveTo(L, py);
      ctx.lineTo(L + len, py);
      ctx.moveTo(R, py);
      ctx.lineTo(R - len, py);
    }
    ctx.stroke();

    ctx.fillStyle = "#000";
    ctx.font = `15px ${FONT}`;
    ctx.textAlign = "center";
    ctx.textBaseline = "top";
    (opts.ticks as number[]).forEach((t) => {
      ctx.fillText(String(t), xs.getPixelForValue(t), a.bottom + 8);
    });
    ctx.textAlign = "right";
    ctx.textBaseline = "middle";
    yTickValues.forEach((v, i) => {
      ctx.fillText(yTickLabels[i], a.left - 7, ys.getPixelForValue(v) + 1);
    });

    // x title
    ctx.textAlign = "center";
    ctx.textBaseline = "middle";
    ctx.fillText(xTitle, a.left + (a.right - a.left) / 2 + 17, a.bottom + 31);

    // y title, rotated, with subscript lambda
    const cy = (a.top + a.bottom) / 2;
    ctx.save();
    ctx.translate(39, cy);
    ctx.rotate(-Math.PI / 2);
    ctx.font = `15px ${FONT}`;
    const wA = ctx.measureText(yTitleA).width;
    const wB = ctx.measureText(yTitleB).width;
    ctx.font = `11px ${FONT}`;
    const wS = ctx.measureText(yTitleSub).width + 1;
    const total = wA + wS + wB;
    let xx = -total / 2;
    ctx.textAlign = "left";
    ctx.textBaseline = "middle";
    ctx.font = `15px ${FONT}`;
    ctx.fillText(yTitleA, xx, 0);
    xx += wA;
    ctx.font = `11px ${FONT}`;
    ctx.fillText(yTitleSub, xx + 0.5, 5);
    xx += wS;
    ctx.font = `15px ${FONT}`;
    ctx.fillText(yTitleB, xx, 0);
    ctx.restore();

    ctx.restore();
  },
};

function Panel({ index }: { index: number }) {
  const ref = useRef<HTMLCanvasElement | null>(null);
  useEffect(() => {
    const p = panels[index];
    const canvas = ref.current;
    if (!canvas) return;
    const chart = new Chart(canvas, {
      type: "line",
      data: {
        datasets: [
          {
            label: "observed",
            data: toPoints(p.obs),
            borderColor: "#000000",
            borderWidth: 1.4,
            pointRadius: 0,
            fill: false,
            cubicInterpolationMode: "monotone",
          },
          {
            label: "model A",
            data: toPoints(p.red),
            borderColor: "#ff1a1a",
            borderWidth: 1,
            pointRadius: 0,
            fill: false,
            cubicInterpolationMode: "monotone",
          },
          {
            label: "model B",
            data: toPoints(p.green),
            borderColor: "#1aff1a",
            borderWidth: 1,
            pointRadius: 0,
            fill: false,
            cubicInterpolationMode: "monotone",
          },
        ],
      } as any,
      options: {
        animation: false,
        responsive: false,
        devicePixelRatio: 1,
        parsing: false as any,
        normalized: true,
        layout: { padding: { left: 77, right: 21.7, top: 23.5, bottom: 50 } },
        scales: {
          x: { type: "linear", min: p.range[0], max: p.range[1], display: false },
          y: { type: "linear", min: fluxRange[0], max: fluxRange[1], display: false },
        },
        plugins: {
          legend: { display: false },
          tooltip: { enabled: false },
          idlAxes: { ticks: p.ticks },
        } as any,
      },
      plugins: [idlAxesPlugin],
    });
    return () => chart.destroy();
  }, [index]);
  return (
    <canvas
      ref={ref}
      width={CANVAS_W}
      height={index === 3 ? 296 : CANVAS_H}
      style={{
        position: "absolute",
        left: 0,
        top: PANEL_TOPS[index],
        width: CANVAS_W,
        height: index === 3 ? 296 : CANVAS_H,
        display: "block",
      }}
    />
  );
}

export default function App() {
  return (
    <div
      style={{
        position: "absolute",
        left: 0,
        top: 0,
        width: CANVAS_W,
        height: 1188,
        background: "#fff",
        overflow: "hidden",
      }}
    >
      {[0, 1, 2, 3].map((i) => (
        <Panel key={i} index={i} />
      ))}
    </div>
  );
}
